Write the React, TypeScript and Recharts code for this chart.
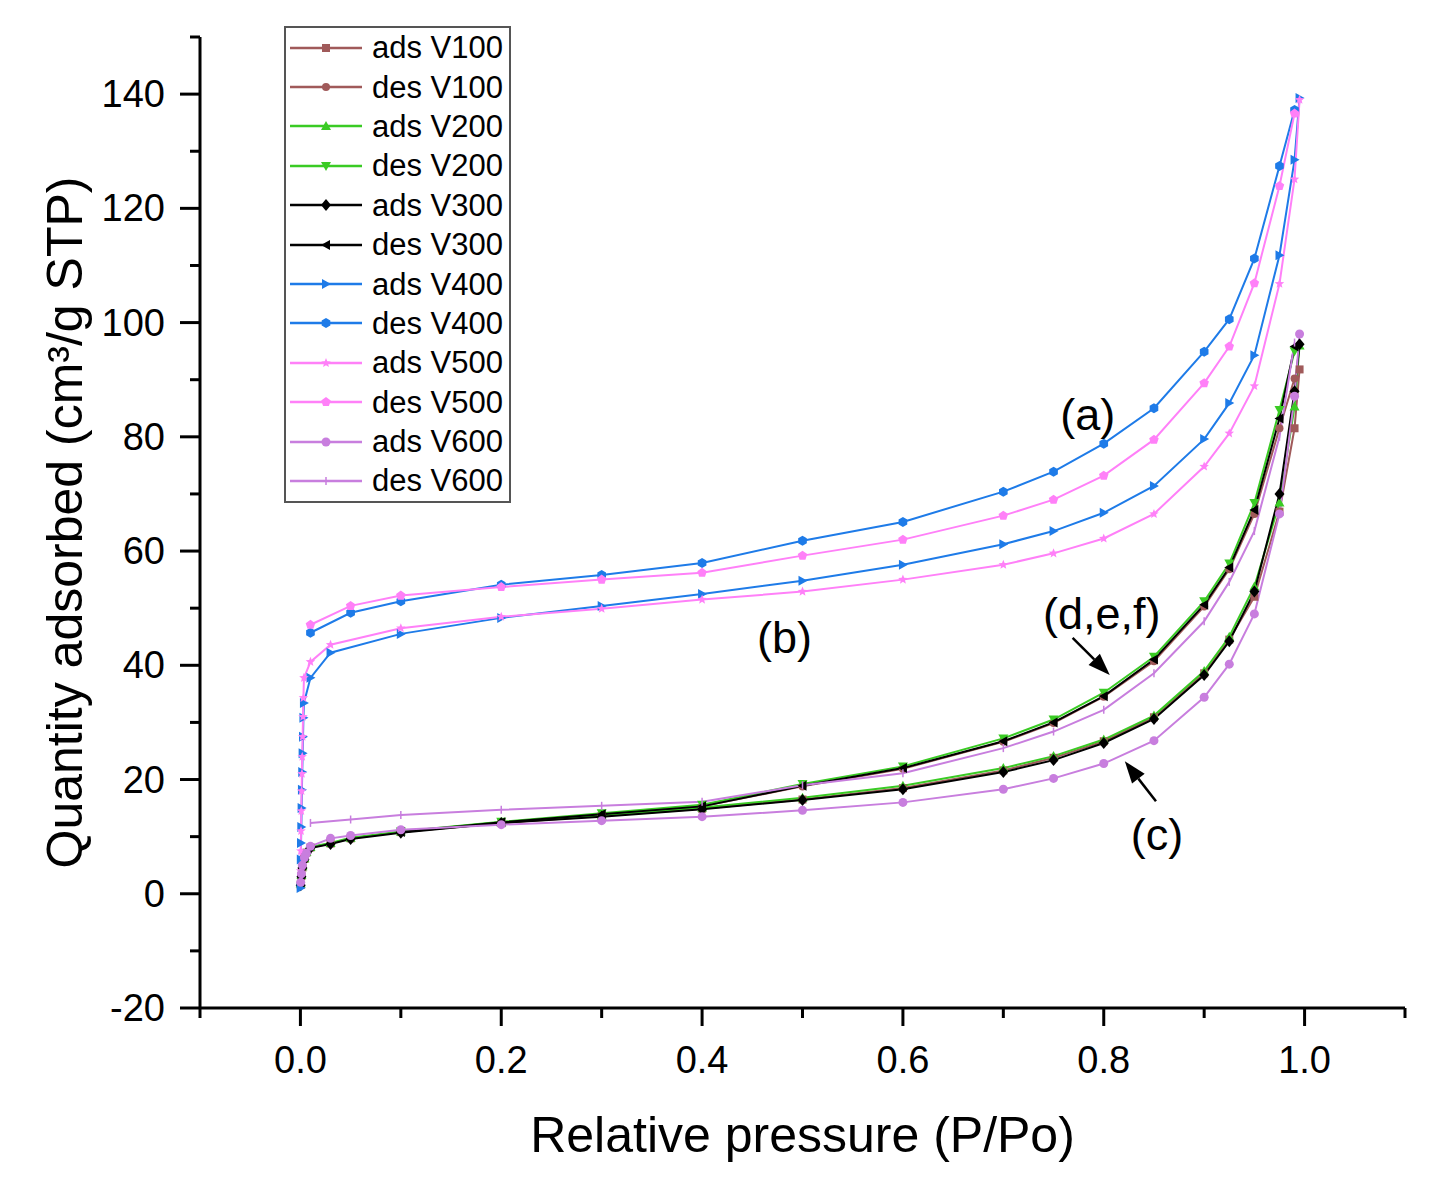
import React from 'react';
import {
  ComposedChart,
  Line,
  XAxis,
  YAxis,
  Legend,
  Label,
  ReferenceLine,
  ReferenceDot,
} from 'recharts';

const FONT = '"Liberation Sans", Arial, Helvetica, sans-serif';

// axis ticks (minor + major)
const xTicks = [-0.1, 0, 0.1, 0.2, 0.3, 0.4, 0.5, 0.6, 0.7, 0.8, 0.9, 1.0, 1.1];
const yTicks = [-20, -10, 0, 10, 20, 30, 40, 50, 60, 70, 80, 90, 100, 110, 120, 130, 140, 150];

// relative pressure grids
const pAdsMicro = [
  0.0002, 0.0004, 0.0006, 0.0009, 0.0012, 0.0015, 0.0018, 0.0022, 0.0026, 0.003, 0.0035,
  0.01, 0.03, 0.1, 0.2, 0.3, 0.4, 0.5, 0.6, 0.7, 0.75, 0.8, 0.85, 0.9, 0.925, 0.95, 0.975, 0.99, 0.995,
];
const pAdsLow = [
  0.0003, 0.001, 0.002, 0.004, 0.006, 0.01, 0.03, 0.05, 0.1, 0.2, 0.3, 0.4, 0.5, 0.6, 0.7, 0.75, 0.8,
  0.85, 0.9, 0.925, 0.95, 0.975, 0.99, 0.995,
];
const pDesLong = [0.99, 0.975, 0.95, 0.925, 0.9, 0.85, 0.8, 0.75, 0.7, 0.6, 0.5, 0.4, 0.3, 0.2, 0.1, 0.05, 0.01];
const pDesShort = [0.99, 0.975, 0.95, 0.925, 0.9, 0.85, 0.8, 0.75, 0.7, 0.6, 0.5, 0.4, 0.3, 0.2, 0.1];

// quantity adsorbed (cm3/g STP)
const adsV100 = [1.6, 3.1, 4.6, 6.1, 7.2, 8.1, 8.8, 9.7, 10.8, 12.4, 13.6, 14.9, 16.5, 18.5, 21.6, 23.8, 26.7, 30.9, 38.6, 44.5, 52.0, 66.9, 81.5, 91.8];
const desV100 = [90.2, 81.5, 66.5, 56.8, 50.3, 40.7, 34.5, 29.9, 26.6, 21.9, 18.8, 15.3, 13.8, 12.4, 10.8];
const adsV200 = [1.8, 3.3, 4.8, 6.2, 7.3, 8.2, 8.9, 9.8, 10.9, 12.5, 13.7, 15.1, 16.8, 18.9, 22.0, 24.1, 27.0, 31.2, 39.0, 45.0, 53.8, 68.5, 85.3, 96.0];
const desV200 = [95.0, 84.7, 68.4, 57.8, 51.2, 41.5, 35.2, 30.5, 27.2, 22.3, 19.2, 15.6, 14.1, 12.6, 10.9];
const adsV300 = [1.5, 3.0, 4.5, 6.0, 7.1, 8.0, 8.7, 9.6, 10.7, 12.4, 13.5, 14.8, 16.4, 18.3, 21.3, 23.4, 26.4, 30.6, 38.3, 44.2, 52.9, 70.0, 88.0, 96.2];
const desV300 = [95.8, 83.2, 67.2, 57.1, 50.6, 41.0, 34.6, 30.0, 26.7, 22.0, 18.9, 15.3, 13.9, 12.5, 10.8];
const adsV400 = [1, 6, 8.9, 11.7, 15, 18.2, 21.3, 24.6, 27.5, 30.8, 33.4, 37.8, 42.2, 45.5, 48.3, 50.4, 52.5, 54.8, 57.6, 61.2, 63.5, 66.7, 71.4, 79.6, 85.9, 94.3, 111.8, 128.5, 139.3];
const desV400 = [137.2, 127.4, 111.2, 100.6, 94.9, 85.0, 78.8, 73.9, 70.4, 65.1, 61.8, 57.9, 55.8, 54.1, 51.2, 49.2, 45.7];
const adsV500 = [4, 7.5, 11, 14.5, 18, 21, 24, 27.5, 31, 34.3, 37.8, 40.6, 43.6, 46.5, 48.5, 49.9, 51.5, 52.9, 55.0, 57.6, 59.6, 62.2, 66.5, 74.8, 80.6, 88.9, 106.8, 125.1, 139.0];
const desV500 = [136.6, 123.9, 106.9, 95.8, 89.4, 79.5, 73.2, 69.0, 66.2, 62.0, 59.2, 56.2, 55.0, 53.7, 52.2, 50.4, 47.1];
const adsV600 = [2, 3.5, 5, 6.3, 7.1, 8.3, 9.7, 10.2, 11.2, 12.1, 12.8, 13.5, 14.6, 16.0, 18.3, 20.2, 22.8, 26.8, 34.4, 40.2, 49.0, 66.5, 87.1, 98.0];
const desV600 = [96.5, 80.0, 63.5, 54.6, 47.7, 38.6, 32.2, 28.4, 25.5, 21.1, 19.0, 16.1, 15.4, 14.7, 13.8, 13.0, 12.4];

const toPoints = (ps: number[], vs: number[]) => ps.map((p, i) => ({ p, v: vs[i] }));

const BROWN = '#A05A5A';
const GREEN = '#3ACB24';
const BLACK = '#000000';
const BLUE = '#1E7BE8';
const PINK = '#FF80F8';
const PURPLE = '#C87EDE';

type Shape = 'square' | 'circle' | 'up' | 'down' | 'diamond' | 'left' | 'right' | 'hexagon' | 'star' | 'pentagon' | 'sphere' | 'bar';

const series: { name: string; color: string; shape: Shape; data: { p: number; v: number }[] }[] = [
  { name: 'ads V100', color: BROWN, shape: 'square', data: toPoints(pAdsLow, adsV100) },
  { name: 'des V100', color: BROWN, shape: 'circle', data: toPoints(pDesShort, desV100) },
  { name: 'ads V200', color: GREEN, shape: 'up', data: toPoints(pAdsLow, adsV200) },
  { name: 'des V200', color: GREEN, shape: 'down', data: toPoints(pDesShort, desV200) },
  { name: 'ads V300', color: BLACK, shape: 'diamond', data: toPoints(pAdsLow, adsV300) },
  { name: 'des V300', color: BLACK, shape: 'left', data: toPoints(pDesShort, desV300) },
  { name: 'ads V400', color: BLUE, shape: 'right', data: toPoints(pAdsMicro, adsV400) },
  { name: 'des V400', color: BLUE, shape: 'hexagon', data: toPoints(pDesLong, desV400) },
  { name: 'ads V500', color: PINK, shape: 'star', data: toPoints(pAdsMicro, adsV500) },
  { name: 'des V500', color: PINK, shape: 'pentagon', data: toPoints(pDesLong, desV500) },
  { name: 'ads V600', color: PURPLE, shape: 'sphere', data: toPoints(pAdsLow, adsV600) },
  { name: 'des V600', color: PURPLE, shape: 'bar', data: toPoints(pDesLong, desV600) },
];

function polygon(cx: number, cy: number, n: number, r: number, rot: number) {
  const pts: string[] = [];
  for (let i = 0; i < n; i++) {
    const a = rot + (i * 2 * Math.PI) / n;
    pts.push(`${cx + r * Math.cos(a)},${cy + r * Math.sin(a)}`);
  }
  return pts.join(' ');
}

function drawMarker(shape: Shape, cx: number, cy: number, color: string, key?: string) {
  switch (shape) {
    case 'square':
      return <rect key={key} x={cx - 4} y={cy - 4} width={8} height={8} fill={color} />;
    case 'circle':
      return <circle key={key} cx={cx} cy={cy} r={4} fill={color} />;
    case 'sphere':
      return <circle key={key} cx={cx} cy={cy} r={4.5} fill={color} />;
    case 'up':
      return <polygon key={key} points={`${cx},${cy - 5} ${cx + 5},${cy + 4} ${cx - 5},${cy + 4}`} fill={color} />;
    case 'down':
      return <polygon key={key} points={`${cx},${cy + 5} ${cx + 5},${cy - 4} ${cx - 5},${cy - 4}`} fill={color} />;
    case 'diamond':
      return <polygon key={key} points={`${cx},${cy - 6} ${cx + 5},${cy} ${cx},${cy + 6} ${cx - 5},${cy}`} fill={color} />;
    case 'left':
      return <polygon key={key} points={`${cx - 5},${cy} ${cx + 4},${cy - 5} ${cx + 4},${cy + 5}`} fill={color} />;
    case 'right':
      return <polygon key={key} points={`${cx + 5},${cy} ${cx - 4},${cy - 5} ${cx - 4},${cy + 5}`} fill={color} />;
    case 'hexagon':
      return <polygon key={key} points={polygon(cx, cy, 6, 5, Math.PI / 6)} fill={color} />;
    case 'pentagon':
      return <polygon key={key} points={polygon(cx, cy, 5, 5, -Math.PI / 2)} fill={color} />;
    case 'star': {
      const pts: string[] = [];
      for (let i = 0; i < 10; i++) {
        const r = i % 2 === 0 ? 5 : 2.2;
        const a = -Math.PI / 2 + (i * Math.PI) / 5;
        pts.push(`${cx + r * Math.cos(a)},${cy + r * Math.sin(a)}`);
      }
      return <polygon key={key} points={pts.join(' ')} fill={color} />;
    }
    case 'bar':
    default:
      return <line key={key} x1={cx} x2={cx} y1={cy - 4} y2={cy + 4} stroke={color} strokeWidth={1.5} />;
  }
}

const seriesOrder = series.map((s) => s.name);

function XTick({ x, y, payload }: any) {
  const v = payload.value as number;
  const major = Math.round(v * 10) % 2 === 0;
  return (
    <g>
      <line x1={x} x2={x} y1={y} y2={y + (major ? 18 : 10)} stroke="#000" strokeWidth={3} />
      {major && (
        <text x={x} y={y + 52} textAnchor="middle" dominantBaseline="central" fontSize={38} fontFamily={FONT} fill="#000">
          {v.toFixed(1)}
        </text>
      )}
    </g>
  );
}

function YTick({ x, y, payload }: any) {
  const v = payload.value as number;
  const major = v % 20 === 0;
  return (
    <g>
      <line x1={x} x2={x - (major ? 20 : 10)} y1={y} y2={y} stroke="#000" strokeWidth={3} />
      {major && (
        <text x={x - 35} y={y} textAnchor="end" dominantBaseline="central" fontSize={38} fontFamily={FONT} fill="#000">
          {v}
        </text>
      )}
    </g>
  );
}

function XTitle({ viewBox }: any) {
  return (
    <text
      x={viewBox.x + viewBox.width / 2}
      y={viewBox.y + 127}
      textAnchor="middle"
      dominantBaseline="central"
      fontSize={50}
      fontFamily={FONT}
      fill="#000"
    >
      Relative pressure (P/Po)
    </text>
  );
}

function YTitle({ viewBox }: any) {
  const cx = viewBox.x + 65;
  const cy = viewBox.y + viewBox.height / 2;
  return (
    <text
      x={cx}
      y={cy}
      transform={`rotate(-90 ${cx} ${cy})`}
      textAnchor="middle"
      dominantBaseline="central"
      fontSize={50}
      fontFamily={FONT}
      fill="#000"
    >
      Quantity adsorbed (cm³/g STP)
    </text>
  );
}

function Arrow(props: any) {
  const { x1, y1, x2, y2 } = props;
  const ang = Math.atan2(y2 - y1, x2 - x1);
  const len = 22;
  const half = 8;
  const bx = x2 - len * Math.cos(ang);
  const by = y2 - len * Math.sin(ang);
  const px = -Math.sin(ang) * half;
  const py = Math.cos(ang) * half;
  return (
    <g>
      <line x1={x1} y1={y1} x2={bx} y2={by} stroke="#000" strokeWidth={2.5} />
      <polygon points={`${x2},${y2} ${bx + px},${by + py} ${bx - px},${by - py}`} fill="#000" />
    </g>
  );
}

function IsothermLegend({ payload }: any) {
  // keep the plotting order (legend sorts by name otherwise)
  const items = [...(payload || [])].sort(
    (a: any, b: any) => seriesOrder.indexOf(a.value) - seriesOrder.indexOf(b.value),
  );
  return (
    <div
      style={{
        border: '2px solid #555',
        background: '#fff',
        width: 223,
        fontFamily: FONT,
      }}
    >
      {items.map((entry: any) => {
        const s = series[seriesOrder.indexOf(entry.value)];
        if (!s) return null;
        return (
          <div key={entry.value} style={{ display: 'flex', alignItems: 'center', height: 39.4 }}>
            <svg width={80} height={20} style={{ display: 'block' }}>
              <line x1={4} x2={76} y1={10} y2={10} stroke={s.color} strokeWidth={2.5} />
              {drawMarker(s.shape, 40, 10, s.color)}
            </svg>
            <span style={{ fontSize: 31, marginLeft: 6, color: '#000', lineHeight: 1 }}>{entry.value}</span>
          </div>
        );
      })}
    </div>
  );
}

export default function App() {
  return (
    <div style={{ position: 'absolute', left: 0, top: 0, background: '#fff' }}>
      <ComposedChart width={1434} height={1179} margin={{ top: 37, right: 29, left: 0, bottom: 0 }}>
        <XAxis
          type="number"
          dataKey="p"
          domain={[-0.1, 1.1]}
          ticks={xTicks}
          interval={0}
          allowDataOverflow
          height={171}
          tickSize={0}
          tickMargin={0}
          tickLine={false}
          axisLine={{ stroke: '#000', strokeWidth: 3 }}
          tick={<XTick />}
        >
          <Label content={<XTitle />} />
        </XAxis>
        <YAxis
          type="number"
          domain={[-20, 150]}
          ticks={yTicks}
          interval={0}
          allowDataOverflow
          width={200}
          tickSize={0}
          tickMargin={0}
          tickLine={false}
          axisLine={{ stroke: '#000', strokeWidth: 3 }}
          tick={<YTick />}
        >
          <Label content={<YTitle />} />
        </YAxis>

        <Legend
          layout="vertical"
          align="center"
          verticalAlign="middle"
          wrapperStyle={{ position: 'absolute', left: 284, top: 26, width: 'auto' }}
          content={<IsothermLegend />}
        />

        {series.map((s) => (
          <Line
            key={s.name}
            name={s.name}
            data={s.data}
            dataKey="v"
            type="linear"
            stroke={s.color}
            strokeWidth={2}
            isAnimationActive={false}
            activeDot={false}
            dot={(props: any) => drawMarker(s.shape, props.cx, props.cy, s.color, `dot-${props.index}`)}
          />
        ))}

        {/* annotation arrows */}
        <ReferenceLine
          segment={[
            { x: 0.769, y: 44.8 },
            { x: 0.806, y: 38.3 },
          ]}
          ifOverflow="visible"
          shape={Arrow}
        />
        <ReferenceLine
          segment={[
            { x: 0.852, y: 16.2 },
            { x: 0.821, y: 23.2 },
          ]}
          ifOverflow="visible"
          shape={Arrow}
        />

        {/* curve labels */}
        <ReferenceDot x={0.784} y={84} r={0} ifOverflow="visible" label={{ value: '(a)', position: 'center', fontSize: 45, fill: '#000', fontFamily: FONT }} />
        <ReferenceDot x={0.482} y={45} r={0} ifOverflow="visible" label={{ value: '(b)', position: 'center', fontSize: 45, fill: '#000', fontFamily: FONT }} />
        <ReferenceDot x={0.798} y={49.2} r={0} ifOverflow="visible" label={{ value: '(d,e,f)', position: 'center', fontSize: 45, fill: '#000', fontFamily: FONT }} />
        <ReferenceDot x={0.853} y={10.5} r={0} ifOverflow="visible" label={{ value: '(c)', position: 'center', fontSize: 45, fill: '#000', fontFamily: FONT }} />
      </ComposedChart>
    </div>
  );
}
